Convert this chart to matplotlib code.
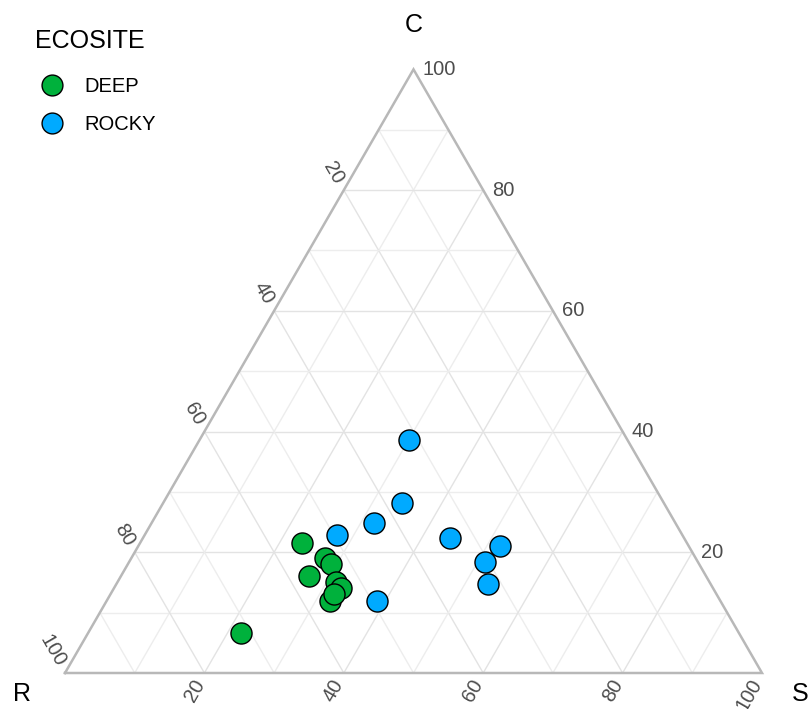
import numpy as np
import matplotlib.pyplot as plt
from matplotlib.transforms import offset_copy
from matplotlib.lines import Line2D

plt.rcParams['font.family'] = ['Liberation Sans', 'DejaVu Sans']

# ternary data (percent): R, S, C
deep_R = [55.2, 53.2, 52.8, 57.0, 53.5, 53.4, 56.0, 54.8, 71.5]
deep_S = [23.3, 27.7, 29.1, 27.0, 31.4, 32.6, 32.1, 32.1, 21.9]
deep_C = [21.5, 19.1, 18.1, 16.0, 15.1, 14.0, 11.9, 13.1, 6.6]

rocky_R = [31.4, 37.6, 43.3, 49.6, 33.6, 27.1, 30.6, 32.0, 49.3]
rocky_S = [30.0, 34.2, 31.9, 27.6, 44.0, 51.9, 51.0, 53.3, 38.8]
rocky_C = [38.6, 28.2, 24.8, 22.8, 22.4, 21.0, 18.4, 14.7, 11.9]

tick_vals = [20, 40, 60, 80, 100]
grid_vals = list(range(10, 100, 10))

col_deep = '#00B13C'
col_rocky = '#00AAFF'


def tern(r, s, c):
    r, s, c = np.asarray(r, float), np.asarray(s, float), np.asarray(c, float)
    tot = r + s + c
    x = (s + c / 2.0) / tot
    y = (c / tot) * np.sqrt(3) / 2.0
    return x, y


fig = plt.figure(figsize=(8.11, 7.09), dpi=100)
ax = fig.add_axes([0, 0, 1, 1])
ax.set_xlim(-65 / 697, (811 - 65) / 697)
ax.set_ylim(-(709 - 673) / 697, 673 / 697)
ax.axis('off')

# grid
for v in grid_vals:
    lc = '#E3E3E3' if v % 20 == 0 else '#EDEDED'
    x, y = tern([100 - v, 0], [0, 100 - v], [v, v])
    ax.plot(x, y, color=lc, lw=1.0, zorder=1)
    x, y = tern([100 - v, 0], [v, v], [0, 100 - v])
    ax.plot(x, y, color=lc, lw=1.0, zorder=1)
    x, y = tern([v, v], [100 - v, 0], [0, 100 - v])
    ax.plot(x, y, color=lc, lw=1.0, zorder=1)

# border
bx, by = tern([100, 0, 0, 100], [0, 100, 0, 0], [0, 0, 100, 0])
ax.plot(bx, by, color='#B8B8B8', lw=1.8, zorder=2, solid_joinstyle='miter')

# tick labels
gap = 9
tcol = '#4D4D4D'
tfs = 14.5
for v in tick_vals:
    # S axis (bottom)
    x, y = tern(100 - v, v, 0)
    tr = offset_copy(ax.transData, fig, x=-gap * 0.5, y=-gap * 0.866, units='dots')
    ax.text(x, y, str(v), transform=tr, rotation=60, rotation_mode='anchor',
            ha='right', va='center', fontsize=tfs, color=tcol)
    # C axis (right)
    x, y = tern(0, 100 - v, v)
    tr = offset_copy(ax.transData, fig, x=gap, y=0, units='dots')
    ax.text(x, y, str(v), transform=tr, ha='left', va='center', fontsize=tfs, color=tcol)
    # R axis (left)
    x, y = tern(v, 0, 100 - v)
    tr = offset_copy(ax.transData, fig, x=-gap * 0.5, y=gap * 0.866, units='dots')
    ax.text(x, y, str(v), transform=tr, rotation=-60, rotation_mode='anchor',
            ha='right', va='center', fontsize=tfs, color=tcol)

# axis titles
for (r, s, c), (dx, dy), name in [((0, 0, 100), (0, 44), 'C'),
                                   ((100, 0, 0), (-43, -21), 'R'),
                                   ((0, 100, 0), (38, -21), 'S')]:
    x, y = tern(r, s, c)
    tr = offset_copy(ax.transData, fig, x=dx, y=dy, units='dots')
    ax.text(x, y, name, transform=tr, ha='center', va='center', fontsize=18, color='black')

# points
x, y = tern(deep_R, deep_S, deep_C)
ax.scatter(x, y, s=230, c=col_deep, edgecolors='black', linewidths=1.0, zorder=5)
x, y = tern(rocky_R, rocky_S, rocky_C)
ax.scatter(x, y, s=230, c=col_rocky, edgecolors='black', linewidths=1.0, zorder=5)

# legend
fig.text(35 / 811, 1 - 41 / 709, 'ECOSITE', ha='left', va='center', fontsize=18, color='black')
handles = [Line2D([], [], ls='', marker='o', markersize=15, markerfacecolor=col_deep,
                  markeredgecolor='black', markeredgewidth=1.0, label='DEEP'),
           Line2D([], [], ls='', marker='o', markersize=15, markerfacecolor=col_rocky,
                  markeredgecolor='black', markeredgewidth=1.0, label='ROCKY')]
leg = fig.legend(handles=handles, loc='upper left',
                 bbox_to_anchor=(32 / 811, 1 - 77 / 709), frameon=False,
                 fontsize=14.5, handlelength=2.0, handletextpad=0.6,
                 labelspacing=0.95, borderpad=0.0, borderaxespad=0.0)

fig.savefig('out.png', dpi=100)
